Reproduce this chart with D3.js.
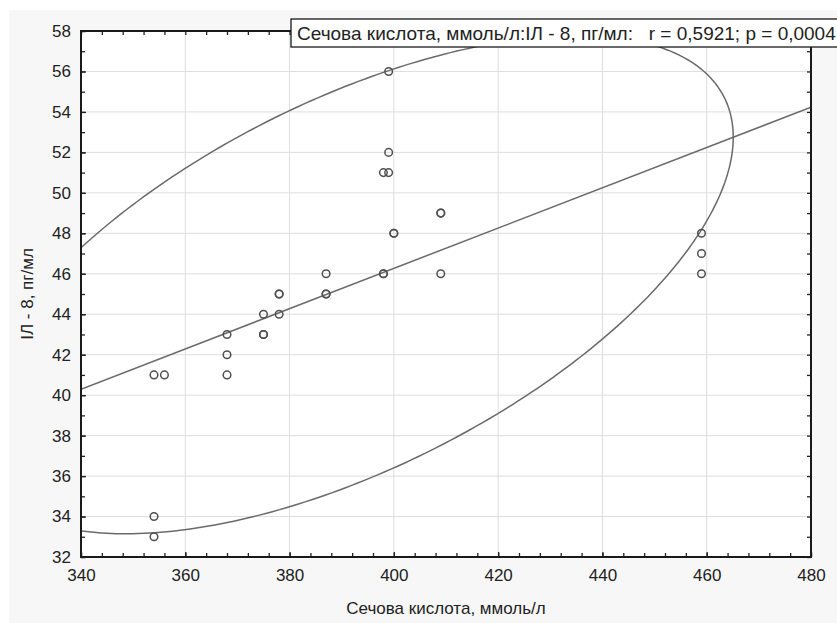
<!DOCTYPE html>
<html>
<head>
<meta charset="utf-8">
<script src="https://cdnjs.cloudflare.com/ajax/libs/d3/7.8.5/d3.min.js"></script>
<style>
	body { margin: 0; background: #fff; }
	svg text { font-family: "Liberation Sans", Arial, sans-serif; fill: #222; }
</style>
</head>
<body>
<div id="chart"></div>
<script>
// points (uric acid vs IL-8)
var uricAcid = [354, 354, 354, 356, 368, 368, 368, 375, 375, 375, 378, 378, 378, 387, 387, 387, 398, 398, 398, 399, 399, 399, 400, 400, 409, 409, 409, 459, 459, 459];
var il8 = [33, 34, 41, 41, 41, 42, 43, 43, 43, 44, 44, 45, 45, 45, 45, 46, 46, 46, 51, 51, 52, 56, 48, 48, 46, 49, 49, 46, 47, 48];

// summary statistics behind the fitted line and the 0.95 normal ellipse
var meanXY = [391.9, 45.46];
var sdXY = [29.9, 5.03];
var rValue = 0.5921;
var ellipseLevel = 0.95;

var xTicks = [340, 360, 380, 400, 420, 440, 460, 480];
var yTicks = [32, 34, 36, 38, 40, 42, 44, 46, 48, 50, 52, 54, 56, 58];

var xTitle = "Сечова кислота, ммоль/л";
var yTitle = "ІЛ - 8, пг/мл";
var legendText = "Сечова кислота, ммоль/л:ІЛ - 8, пг/мл:   r = 0,5921; p = 0,0004";

var W = 837, H = 623;
var margin = {top: 31, right: 26, bottom: 66, left: 81},
	width = W - margin.left - margin.right,
	height = H - margin.top - margin.bottom;

var svg = d3.select("#chart").append("svg")
	.attr("width", W)
	.attr("height", H);

svg.append("rect")
	.attr("x", 9).attr("y", 10)
	.attr("width", W - 9).attr("height", H - 10)
	.attr("fill", "#f7f7f7");

var g = svg.append("g")
	.attr("transform", "translate(" + margin.left + "," + margin.top + ")");

var x = d3.scaleLinear().domain([340, 480]).range([0, width]);
var y = d3.scaleLinear().domain([32, 58]).range([height, 0]);

g.append("rect")
	.attr("width", width).attr("height", height)
	.attr("fill", "#fff");

g.append("clipPath").attr("id", "plotclip")
	.append("rect").attr("width", width).attr("height", height);

// grid
g.append("g").selectAll("line")
	.data(xTicks.slice(1, -1))
	.enter().append("line")
	.attr("x1", function(d) { return x(d); }).attr("x2", function(d) { return x(d); })
	.attr("y1", 0).attr("y2", height)
	.attr("stroke", "#dedede").attr("stroke-width", 1);
g.append("g").selectAll("line")
	.data(yTicks.slice(1, -1))
	.enter().append("line")
	.attr("y1", function(d) { return y(d); }).attr("y2", function(d) { return y(d); })
	.attr("x1", 0).attr("x2", width)
	.attr("stroke", "#dedede").attr("stroke-width", 1);

// fitted line and ellipse
var rx = sdXY[0], ry = sdXY[1];
var slope = rValue * ry / rx;
var k = Math.sqrt(-2 * Math.log(1 - ellipseLevel));
var ellipsePts = d3.range(0, 361, 1).map(function(a) {
	var t = a * Math.PI / 180;
	return [
		meanXY[0] + k * rx * Math.cos(t),
		meanXY[1] + k * ry * (rValue * Math.cos(t) + Math.sqrt(1 - rValue * rValue) * Math.sin(t))
	];
});
var line = d3.line()
	.x(function(d) { return x(d[0]); })
	.y(function(d) { return y(d[1]); });

var plot = g.append("g").attr("clip-path", "url(#plotclip)");
plot.append("path")
	.attr("d", line(ellipsePts))
	.attr("fill", "none").attr("stroke", "#6a6a6a").attr("stroke-width", 1.5);
plot.append("path")
	.attr("d", line(x.domain().map(function(v) { return [v, meanXY[1] + slope * (v - meanXY[0])]; })))
	.attr("fill", "none").attr("stroke", "#6a6a6a").attr("stroke-width", 1.5);

plot.selectAll("circle")
	.data(uricAcid.map(function(v, i) { return [v, il8[i]]; }))
	.enter().append("circle")
	.attr("cx", function(d) { return x(d[0]); })
	.attr("cy", function(d) { return y(d[1]); })
	.attr("r", 3.8)
	.attr("fill", "none")
	.attr("stroke", "#505050")
	.attr("stroke-width", 1.5);

// axes: ticks pointing inward on all four sides
function styleAxis(sel) {
	sel.select(".domain").remove();
	sel.selectAll("line").attr("stroke", "#222").attr("stroke-width", 1.3);
	sel.selectAll("text").style("font-size", "17px").attr("fill", "#222");
}
var xMinor = d3.range(340, 481, 4);
var yMinor = d3.range(32, 59, 1);

g.append("g").attr("transform", "translate(0," + height + ")")
	.call(d3.axisBottom(x).tickValues(xMinor).tickSize(-4).tickFormat(""))
	.call(styleAxis);
g.append("g").attr("transform", "translate(0," + height + ")")
	.call(d3.axisBottom(x).tickValues(xTicks).tickSize(-5).tickPadding(12).tickFormat(d3.format("d")))
	.call(styleAxis);
g.append("g")
	.call(d3.axisTop(x).tickValues(xMinor).tickSize(-4).tickFormat(""))
	.call(styleAxis);
g.append("g")
	.call(d3.axisLeft(y).tickValues(yMinor).tickSize(-4).tickFormat(""))
	.call(styleAxis);
g.append("g")
	.call(d3.axisLeft(y).tickValues(yTicks).tickSize(-5).tickPadding(10).tickFormat(d3.format("d")))
	.call(styleAxis);
g.append("g").attr("transform", "translate(" + width + ",0)")
	.call(d3.axisRight(y).tickValues(yMinor).tickSize(-4).tickFormat(""))
	.call(styleAxis);

g.append("rect")
	.attr("width", width).attr("height", height)
	.attr("fill", "none").attr("stroke", "#1a1a1a").attr("stroke-width", 2);

// titles
svg.append("text")
	.attr("x", margin.left + width / 2).attr("y", 614)
	.attr("text-anchor", "middle")
	.style("font-size", "17px")
	.text(xTitle);
svg.append("text")
	.attr("transform", "translate(33," + (margin.top + height / 2) + ") rotate(-90)")
	.attr("text-anchor", "middle")
	.style("font-size", "17px")
	.text(yTitle);

// legend box
var lg = svg.append("g").attr("transform", "translate(291,19)");
lg.append("rect")
	.attr("width", 600).attr("height", 28)
	.attr("fill", "#fff").attr("stroke", "#1a1a1a").attr("stroke-width", 1.3);
lg.append("text")
	.attr("x", 6).attr("y", 21)
	.style("font-size", "19px")
	.style("white-space", "pre")
	.text(legendText);
</script>
</body>
</html>
